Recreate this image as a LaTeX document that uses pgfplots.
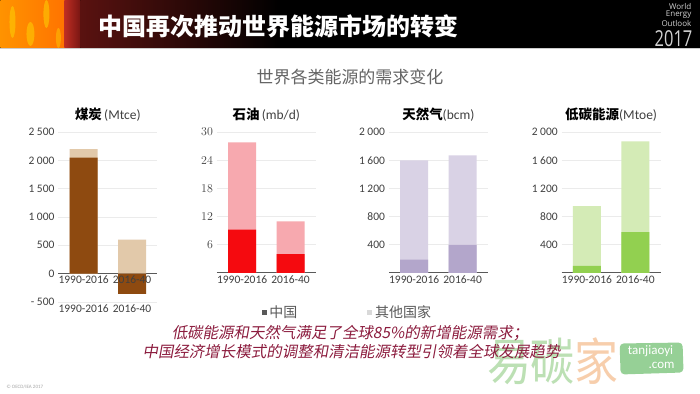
\documentclass[border=0pt]{standalone}
\usepackage{pgfplots}
\pgfplotsset{compat=1.18}
\usepackage{fontspec}
\setmainfont{Carlito}
\newfontfamily\cjk{Noto Sans CJK SC}
\newfontfamily\cjkit[FakeSlant=0.18]{Noto Sans CJK SC}
\newfontfamily\logofont{Open Sans}
\definecolor{coalD}{HTML}{8E4A10}
\definecolor{coalL}{HTML}{E2C9AA}
\definecolor{oilD}{HTML}{F50A0F}
\definecolor{oilL}{HTML}{F7A9AF}
\definecolor{gasD}{HTML}{B3A6CB}
\definecolor{gasL}{HTML}{D9D2E5}
\definecolor{lowD}{HTML}{92D050}
\definecolor{lowL}{HTML}{D4EBB6}
\definecolor{gridc}{HTML}{EBEBEB}
\definecolor{axc}{HTML}{595959}
\definecolor{tickc}{HTML}{404040}
\definecolor{maroon}{HTML}{8C1C3E}
\newcommand\tickfont{\fontsize{11.5bp}{13bp}\selectfont}
\pgfplotsset{
  panel/.style={
    scale only axis, width=99bp, height=141bp,
    xmin=-0.52, xmax=1.52,
    axis line style={draw=none}, major tick length=0pt,
    ymajorgrids, grid style={draw=gridc, line width=0.7bp},
    xtick={0,1}, xticklabels={1990-2016,2016-40},
    ybar, bar width=28bp,
    tick label style={font=\tickfont, text=tickc},
    yticklabel style={anchor=east, xshift=-0.5bp},
    xticklabel style={yshift=1bp},
    clip=false,
    extra y ticks={0}, extra y tick labels={},
    extra y tick style={grid=major, major grid style={draw=axc, line width=1bp}},
    title style={at={(0.5,1)}, anchor=south, yshift=1bp, font=\fontsize{13.5bp}{15bp}\selectfont, text=tickc},
  }
}
\begin{document}
\begin{tikzpicture}[x=1bp,y=1bp]
\fill[white] (0,0) rectangle (700,394);
% header band
\fill[black] (0,346) rectangle (700,394);
\shade[left color=orange!85!yellow, right color=orange!90!red] (0,346) rectangle (66,394);
\fill[yellow!70!orange, opacity=0.55] (12,372) ellipse (3 and 16);
\fill[yellow!70!orange, opacity=0.55] (30,360) ellipse (4 and 12);
\fill[yellow!70!orange, opacity=0.55] (46,380) ellipse (3 and 14);
\fill[yellow!70!orange, opacity=0.45] (58,356) ellipse (2.5 and 10);
\shade[left color={rgb,255:red,190;green,45;blue,35}, right color={rgb,255:red,120;green,22;blue,18}] (64,346) rectangle (80,394);
\shade[left color={rgb,255:red,90;green,18;blue,16}, right color=black] (80,346) rectangle (280,394);
\draw[gray!40, line width=1bp] (0,345.5) -- (700,345.5);
\node[anchor=west, text=white, font={\cjk\bfseries\fontsize{24bp}{26bp}\selectfont}] at (95,368) {中国再次推动世界能源市场的转变};
% logo
\node[anchor=east, text=gray!35, font={\logofont\fontsize{8bp}{9bp}\selectfont}, inner sep=0] at (692,387.5) {World};
\node[anchor=east, text=gray!35, font={\logofont\fontsize{8bp}{9bp}\selectfont}, inner sep=0] at (692,379) {Energy};
\node[anchor=east, text=gray!35, font={\logofont\fontsize{8bp}{9bp}\selectfont}, inner sep=0] at (692,370.5) {Outlook};
\node[anchor=east, text=gray!35, font={\logofont\fontsize{22bp}{23bp}\selectfont}, inner sep=0, xscale=0.75] at (693,355) {2017};
% subtitle
\node[text={rgb,255:red,100;green,100;blue,100}, font={\cjk\fontsize{17bp}{19bp}\selectfont}] at (350,317) {世界各类能源的需求变化};

% coal
\begin{axis}[panel, at={(58bp,91.7bp)}, anchor=south west, height=170bp,
  ymin=-500, ymax=2500,
  ytick={-500,0,500,1000,1500,2000,2500},
  yticklabels={{- 500},0,500,{1 000},{1 500},{2 000},{2 500}},
  title={{\cjk\bfseries\textcolor{black}{煤炭}}\,(Mtce)}]
\addplot[fill=coalL, draw=none, bar shift=0pt] coordinates {(0,2200) (1,600)};
\addplot[fill=coalD, draw=none, bar shift=0pt] coordinates {(0,2050) (1,-360)};
\node[anchor=north, font=\tickfont, text=tickc, yshift=1bp] at (axis cs:0,0) {1990-2016};
\node[anchor=north, font=\tickfont, text=tickc, yshift=1bp] at (axis cs:1,0) {2016-40};
\end{axis}

% oil
\begin{axis}[panel, at={(216.7bp,120.7bp)}, anchor=south west,
  ymin=0, ymax=30, ytick={6,12,18,24,30},
  title={{\cjk\bfseries\textcolor{black}{石油}}\,(mb/d)}]
\addplot[fill=oilL, draw=none, bar shift=0pt] coordinates {(0,27.8) (1,11.0)};
\addplot[fill=oilD, draw=none, bar shift=0pt] coordinates {(0,9.2) (1,4.0)};
\end{axis}

% gas
\begin{axis}[panel, at={(389bp,120.7bp)}, anchor=south west,
  ymin=0, ymax=2000, ytick={400,800,1200,1600,2000},
  yticklabels={400,800,{1 200},{1 600},{2 000}},
  title={{\cjk\bfseries\textcolor{black}{天然气}}(bcm)}]
\addplot[fill=gasL, draw=none, bar shift=0pt] coordinates {(0,1600) (1,1670)};
\addplot[fill=gasD, draw=none, bar shift=0pt] coordinates {(0,190) (1,400)};
\end{axis}

% low carbon
\begin{axis}[panel, at={(562bp,120.7bp)}, anchor=south west,
  ymin=0, ymax=2000, ytick={400,800,1200,1600,2000},
  yticklabels={400,800,{1 200},{1 600},{2 000}},
  title={{\cjk\bfseries\textcolor{black}{低碳能源}}(Mtoe)}]
\addplot[fill=lowL, draw=none, bar shift=0pt] coordinates {(0,950) (1,1870)};
\addplot[fill=lowD, draw=none, bar shift=0pt] coordinates {(0,100) (1,580)};
\end{axis}

% legend
\fill[axc] (262,78.5) rectangle (267,83.5);
\node[anchor=west, text=axc, font={\cjk\fontsize{14bp}{15bp}\selectfont}, inner sep=0] at (269,81) {中国};
\fill[gray!30] (367.5,78.5) rectangle (372.5,83.5);
\node[anchor=west, text=axc, font={\cjk\fontsize{14bp}{15bp}\selectfont}, inner sep=0] at (375,81) {其他国家};

% watermark
\node[text={rgb,255:red,188;green,224;blue,180}, font={\cjk\fontsize{44bp}{46bp}\selectfont}, inner sep=0, anchor=west, yscale=1.15] at (487,32) {易碳};
\node[text={rgb,255:red,247;green,206;blue,172}, font={\cjk\fontsize{44bp}{46bp}\selectfont}, inner sep=0, anchor=west, yscale=1.15] at (575,32) {家};
\fill[rounded corners=4bp, fill={rgb,255:red,150;green,208;blue,150}] (621,19) -- (684,21) -- (683,51) -- (620,50) -- cycle;
\node[text=white, font={\fontsize{13bp}{14bp}\selectfont}] at (651,42) {tanjiaoyi};
\node[text=white, font={\fontsize{13bp}{14bp}\selectfont}] at (662,28) {.com};

% bottom text
\node[text=maroon, font={\cjkit\fontsize{15.5bp}{17bp}\selectfont}] at (350,60) {低碳能源和天然气满足了全球85\%的新增能源需求；};
\node[text=maroon, font={\cjkit\fontsize{15.5bp}{17bp}\selectfont}] at (351.5,42) {中国经济增长模式的调整和清洁能源转型引领着全球发展趋势};
\node[anchor=west, text=gray!70, font={\fontsize{5bp}{6bp}\selectfont}, inner sep=0] at (6,7) {© OECD/IEA 2017};
\end{tikzpicture}
\end{document}
